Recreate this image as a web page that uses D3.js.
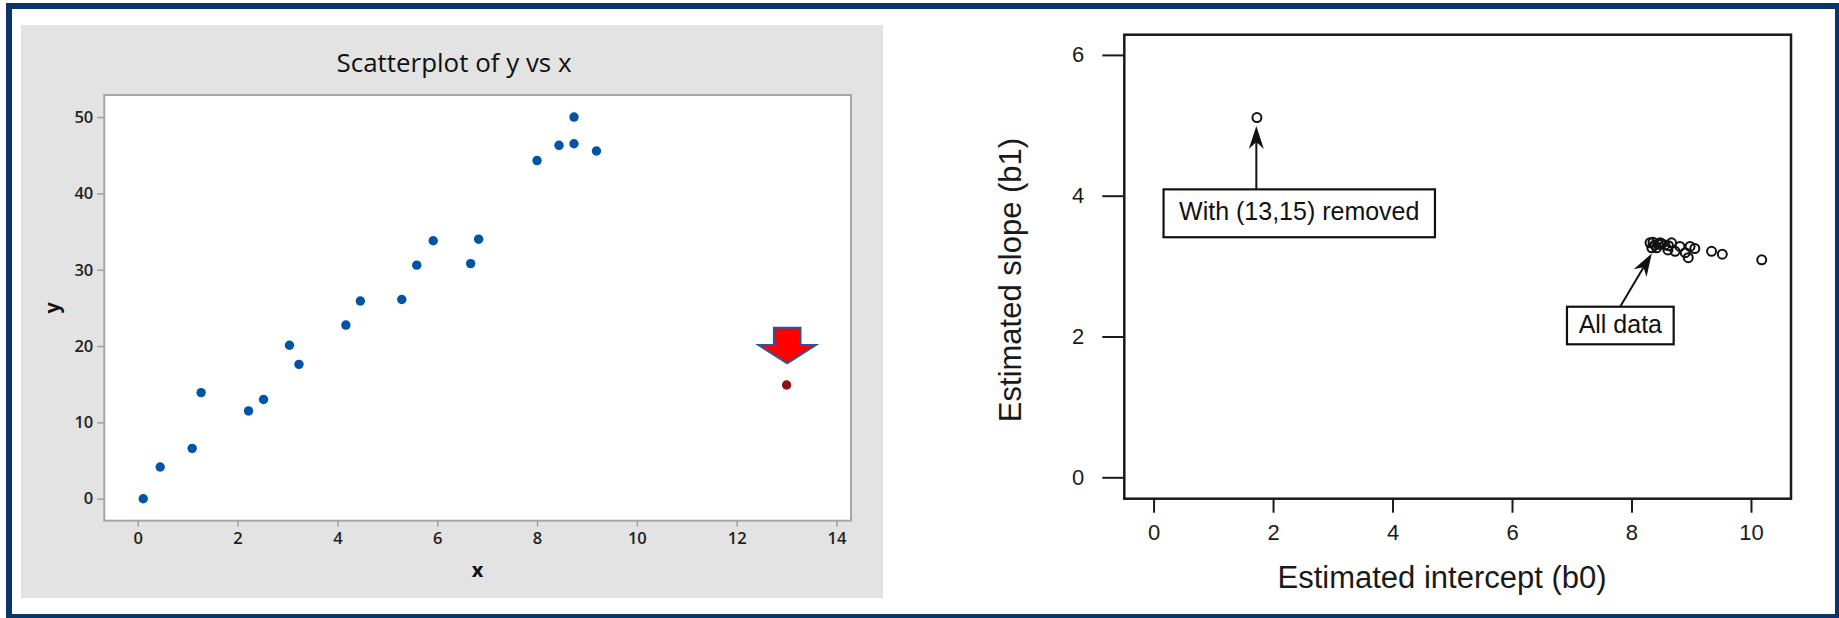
<!DOCTYPE html>
<html><head><meta charset="utf-8">
<script src="https://cdn.jsdelivr.net/npm/d3@7"></script>
<style>body{margin:0;background:#fff;} svg{display:block}</style>
</head><body><svg id="c" width="1839" height="618"></svg>
<script>
// ---------- Left chart data: Scatterplot of y vs x ----------
const xVals = [0.11, 0.45, 1.09, 1.27, 2.22, 2.52, 3.04, 3.23, 4.17, 4.46, 5.29, 5.59, 5.92, 6.67, 6.83, 8.00, 8.44, 8.74, 8.74, 9.19];
const yVals = [0.0, 4.15, 6.6, 13.9, 11.5, 13.0, 20.1, 17.6, 22.75, 25.9, 26.1, 30.6, 33.8, 30.8, 34.0, 44.3, 46.3, 46.5, 50.0, 45.55];
const outlierX = 13.0, outlierY = 14.9;
const xTicksL = [0, 2, 4, 6, 8, 10, 12, 14];
const yTicksL = [0, 10, 20, 30, 40, 50];
const titleL = "Scatterplot of y vs x";

// ---------- Right chart data: estimated intercept vs slope ----------
const b0Vals = [8.31, 8.36, 8.39, 8.34, 8.42, 8.45, 8.48, 8.50, 8.56, 8.61, 8.62, 8.67, 8.73, 8.81, 8.90, 8.95, 8.98, 9.06, 9.34, 9.52, 10.18, 1.73];
const b1Vals = [3.33, 3.34, 3.30, 3.26, 3.26, 3.31, 3.33, 3.32, 3.30, 3.23, 3.29, 3.33, 3.21, 3.28, 3.19, 3.12, 3.28, 3.25, 3.21, 3.17, 3.09, 5.11];
const xTicksR = [0, 2, 4, 6, 8, 10];
const yTicksR = [0, 2, 4, 6];
const annLabels = ["With (13,15) removed", "All data"];
const annBoxB0 = [[0.167, 4.71], [6.92, 8.706]];
const annBoxB1 = [[3.41, 4.09], [1.889, 2.423]];
const annFrom = [[1.72, 4.09], [7.81, 2.423]];
const annTo = [[1.72, 4.99], [8.34, 3.18]];

const svg = d3.select('#c');
svg.append('rect').attr('width', 1839).attr('height', 618).attr('fill', '#fff');

// ================= LEFT PANEL =================
svg.append('rect').attr('x', 21).attr('y', 25).attr('width', 862).attr('height', 573).attr('fill', '#e3e3e3');
const L = {l: 104.3, r: 851, t: 95, b: 520.7};
const xL = d3.scaleLinear().domain([-0.67, 14.29]).range([L.l, L.r]);
const yL = d3.scaleLinear().domain([-2.88, 52.89]).range([L.b, L.t]);

svg.append('rect').attr('x', L.l).attr('y', L.t).attr('width', L.r - L.l).attr('height', L.b - L.t)
  .attr('fill', '#fff').attr('stroke', '#a6a6a6').attr('stroke-width', 2);

svg.append('text').attr('x', 454).attr('y', 72).attr('text-anchor', 'middle')
  .attr('font-family', 'Open Sans').attr('font-size', 25).attr('font-weight', 500).attr('fill', '#111')
  .attr('textLength', 235).attr('lengthAdjust', 'spacingAndGlyphs').text(titleL);

const gxL = svg.append('g').attr('transform', `translate(0,${L.b})`)
  .call(d3.axisBottom(xL).tickValues(xTicksL).tickSize(6).tickSizeOuter(0).tickPadding(6));
const gyL = svg.append('g').attr('transform', `translate(${L.l},0)`)
  .call(d3.axisLeft(yL).tickValues(yTicksL).tickSize(7).tickSizeOuter(0).tickPadding(4));
[gxL, gyL].forEach(g => {
  g.select('.domain').remove();
  g.selectAll('line').attr('stroke', '#a0a0a0').attr('stroke-width', 1.5);
  g.selectAll('text').attr('font-family', 'Open Sans').attr('font-size', 16.5).attr('font-weight', 600).attr('fill', '#222');
});

svg.append('text').attr('x', (L.l + L.r) / 2).attr('y', 577).attr('text-anchor', 'middle')
  .attr('font-family', 'Open Sans').attr('font-weight', 700).attr('font-size', 20).attr('fill', '#111').text('x');
svg.append('text').attr('transform', `translate(59,${(L.t + L.b) / 2}) rotate(-90)`).attr('text-anchor', 'middle')
  .attr('font-family', 'Open Sans').attr('font-weight', 700).attr('font-size', 20).attr('fill', '#111').text('y');

svg.append('g').selectAll('circle').data(xVals.map((x, i) => [x, yVals[i]])).join('circle')
  .attr('cx', d => xL(d[0])).attr('cy', d => yL(d[1])).attr('r', 4.7).attr('fill', '#0054a6');

const ox = xL(outlierX), oy = yL(outlierY);
svg.append('circle').attr('cx', ox).attr('cy', oy).attr('r', 4.7).attr('fill', '#8e1212');
// red block arrow pointing at the outlier
const ax = ox + 0.6;
svg.append('path')
  .attr('d', `M${ax - 13.3},${oy - 57.3} L${ax + 13.3},${oy - 57.3} L${ax + 13.3},${oy - 40} L${ax + 28.7},${oy - 40} L${ax},${oy - 21.7} L${ax - 28.7},${oy - 40} L${ax - 13.3},${oy - 40} Z`)
  .attr('fill', '#ff0000').attr('stroke', '#2f5597').attr('stroke-width', 2).attr('stroke-linejoin', 'miter');

// ================= RIGHT PANEL =================
const R = {l: 1124.3, r: 1791, t: 34.7, b: 498.7};
const xR = d3.scaleLinear().domain([-0.49, 10.67]).range([R.l, R.r]);
const yR = d3.scaleLinear().domain([-0.304, 6.287]).range([R.b, R.t]);
const fontR = 'Liberation Sans, Arial, sans-serif';

svg.append('rect').attr('x', R.l).attr('y', R.t).attr('width', R.r - R.l).attr('height', R.b - R.t)
  .attr('fill', '#fff').attr('stroke', '#1a1a1a').attr('stroke-width', 2.5);

const gxR = svg.append('g').attr('transform', `translate(0,${R.b})`)
  .call(d3.axisBottom(xR).tickValues(xTicksR).tickFormat(d3.format('d')).tickSize(14).tickSizeOuter(0).tickPadding(12));
const gyR = svg.append('g').attr('transform', `translate(${R.l},0)`)
  .call(d3.axisLeft(yR).tickValues(yTicksR).tickFormat(d3.format('d')).tickSize(22).tickSizeOuter(0).tickPadding(18));
[gxR, gyR].forEach(g => {
  g.select('.domain').remove();
  g.selectAll('line').attr('stroke', '#1a1a1a').attr('stroke-width', 2);
  g.selectAll('text').attr('font-family', fontR).attr('font-size', 22).attr('fill', '#1a1a1a');
});

svg.append('text').attr('x', 1442).attr('y', 588).attr('text-anchor', 'middle')
  .attr('font-family', fontR).attr('font-size', 31).attr('fill', '#1a1a1a').text('Estimated intercept (b0)');
svg.append('text').attr('transform', `translate(1021,280) rotate(-90)`).attr('text-anchor', 'middle')
  .attr('font-family', fontR).attr('font-size', 31).attr('fill', '#1a1a1a').text('Estimated slope (b1)');

svg.append('g').selectAll('circle').data(b0Vals.map((b, i) => [b, b1Vals[i]])).join('circle')
  .attr('cx', d => xR(d[0])).attr('cy', d => yR(d[1])).attr('r', 4.5)
  .attr('fill', 'none').attr('stroke', '#111').attr('stroke-width', 2);

// annotations
annLabels.forEach((lab, i) => {
  const x0 = xR(annBoxB0[i][0]), x1 = xR(annBoxB0[i][1]);
  const y0 = yR(annBoxB1[i][1]), y1 = yR(annBoxB1[i][0]);
  svg.append('rect').attr('x', x0).attr('y', y0).attr('width', x1 - x0).attr('height', y1 - y0)
    .attr('fill', '#fff').attr('stroke', '#111').attr('stroke-width', 2.2);
  svg.append('text').attr('x', (x0 + x1) / 2).attr('y', (y0 + y1) / 2 + 7).attr('text-anchor', 'middle')
    .attr('font-family', fontR).attr('font-size', 25).attr('fill', '#111').text(lab);
  const fx = xR(annFrom[i][0]), fy = yR(annFrom[i][1]);
  const tx = xR(annTo[i][0]), ty = yR(annTo[i][1]);
  const a = Math.atan2(ty - fy, tx - fx), len = 23, w = 7.5;
  const ux = Math.cos(a), uy = Math.sin(a), px = -uy, py = ux;
  svg.append('line').attr('x1', fx).attr('y1', fy).attr('x2', tx - ux * 12).attr('y2', ty - uy * 12)
    .attr('stroke', '#111').attr('stroke-width', 2);
  svg.append('path')
    .attr('d', `M${tx},${ty} L${tx - ux * len + px * w},${ty - uy * len + py * w} L${tx - ux * len * 0.7},${ty - uy * len * 0.7} L${tx - ux * len - px * w},${ty - uy * len - py * w} Z`)
    .attr('fill', '#111');
});

// navy outer frame
svg.append('rect').attr('x', 9).attr('y', 6).attr('width', 1829).attr('height', 611)
  .attr('fill', 'none').attr('stroke', '#0a3566').attr('stroke-width', 6);
</script>
</body></html>
